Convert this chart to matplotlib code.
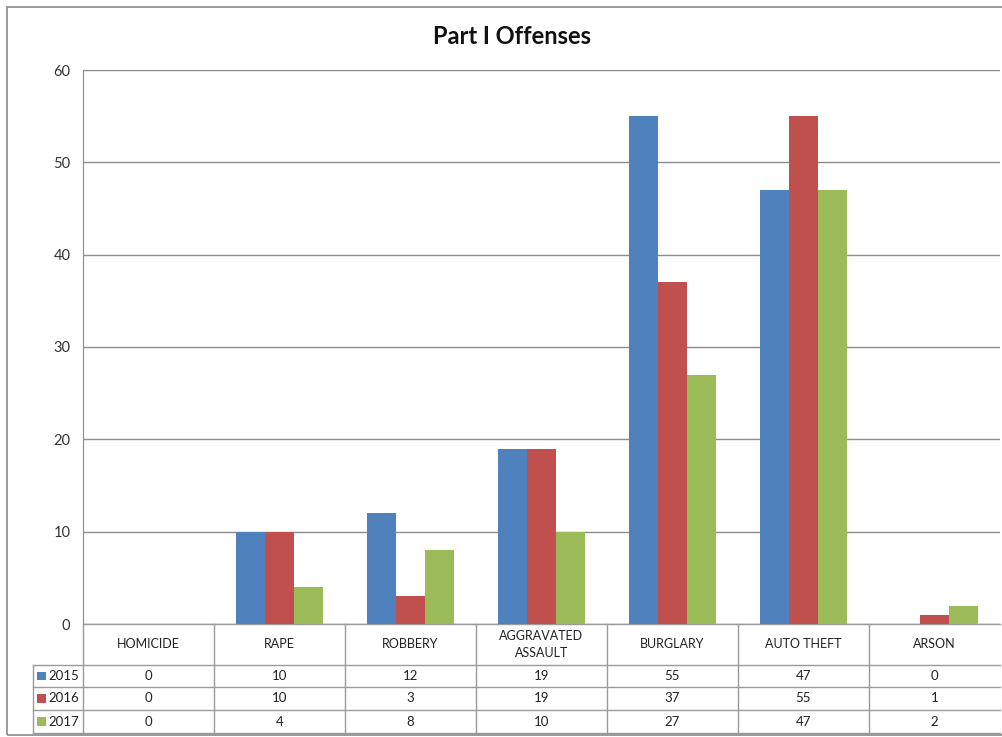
import numpy as np
import matplotlib.pyplot as plt
from matplotlib.patches import Rectangle

plt.rcParams['font.family'] = ['Lato', 'DejaVu Sans']

categories = ['HOMICIDE', 'RAPE', 'ROBBERY', 'AGGRAVATED\nASSAULT', 'BURGLARY', 'AUTO THEFT', 'ARSON']
years = ['2015', '2016', '2017']
counts_2015 = [0, 10, 12, 19, 55, 47, 0]
counts_2016 = [0, 10, 3, 19, 37, 55, 1]
counts_2017 = [0, 4, 8, 10, 27, 47, 2]
colors = ['#4F81BD', '#C0504D', '#9BBB59']

series = [counts_2015, counts_2016, counts_2017]
x = np.arange(len(categories))
w = 0.221

fig = plt.figure(figsize=(10.03, 7.37), dpi=100)
# outer chart frame
fig.patches.append(Rectangle((7 / 1003, 2 / 737), 1.0, 728 / 737, transform=fig.transFigure,
                             fill=False, edgecolor='#8a8a8a', lw=1.2))

ax = fig.add_axes([83 / 1003, 1 - 624 / 737, 917 / 1003, 554 / 737])
for i, vals in enumerate(series):
    ax.bar(x + (i - 1) * w, vals, width=w, color=colors[i], zorder=3)

ax.set_xlim(-0.5, len(categories) - 0.5)
ax.set_ylim(0, 60)
ax.set_yticks(range(0, 61, 10))
ax.yaxis.grid(True, color='#8c8c8c', lw=1)
ax.set_axisbelow(True)
ax.tick_params(axis='y', length=0, pad=9, labelsize=10.5, labelcolor='#333333')
ax.tick_params(axis='x', length=0, labelbottom=False)
for s in ['top', 'right', 'bottom']:
    ax.spines[s].set_visible(False)
ax.spines['left'].set_color('#8c8c8c')

fig.text(512 / 1003, 1 - 36 / 737, 'Part I Offenses', ha='center', va='center',
         fontsize=17, fontweight='bold', color='#111111')

# data table below the bars
tr = ax.get_xaxis_transform()
line_kw = dict(transform=tr, color='#9a9a9a', lw=1, clip_on=False)
h_head = -0.074
rows = [h_head, -0.1137, -0.155, -0.197]
leg_left = -0.5 - 50 / 131
right = len(categories) - 0.5

ax.plot([-0.5, right], [0, 0], **line_kw)
for yb in rows:
    ax.plot([leg_left, right], [yb, yb], **line_kw)
ax.plot([-0.5, -0.5], [0, rows[-1]], **line_kw)
ax.plot([leg_left, leg_left], [h_head, rows[-1]], **line_kw)
for b in np.arange(0.5, len(categories) - 0.5):
    ax.plot([b, b], [0, rows[-1]], **line_kw)

for j, cat in enumerate(categories):
    ax.text(j, h_head / 2, cat, transform=tr, ha='center', va='center',
            fontsize=9, color='#222222', linespacing=1.45, clip_on=False)

for i, vals in enumerate(series):
    yc = (rows[i] + rows[i + 1]) / 2
    for j, v in enumerate(vals):
        ax.text(j, yc, str(v), transform=tr, ha='center', va='center',
                fontsize=9.5, color='#222222', clip_on=False)
    ax.add_patch(Rectangle((leg_left + 0.03, yc - 0.008), 0.068, 0.016, transform=tr,
                           facecolor=colors[i], edgecolor='none', clip_on=False))
    ax.text(leg_left + 0.12, yc, years[i], transform=tr, ha='left', va='center',
            fontsize=9.5, color='#222222', clip_on=False)

fig.savefig('out.png', dpi=100)
